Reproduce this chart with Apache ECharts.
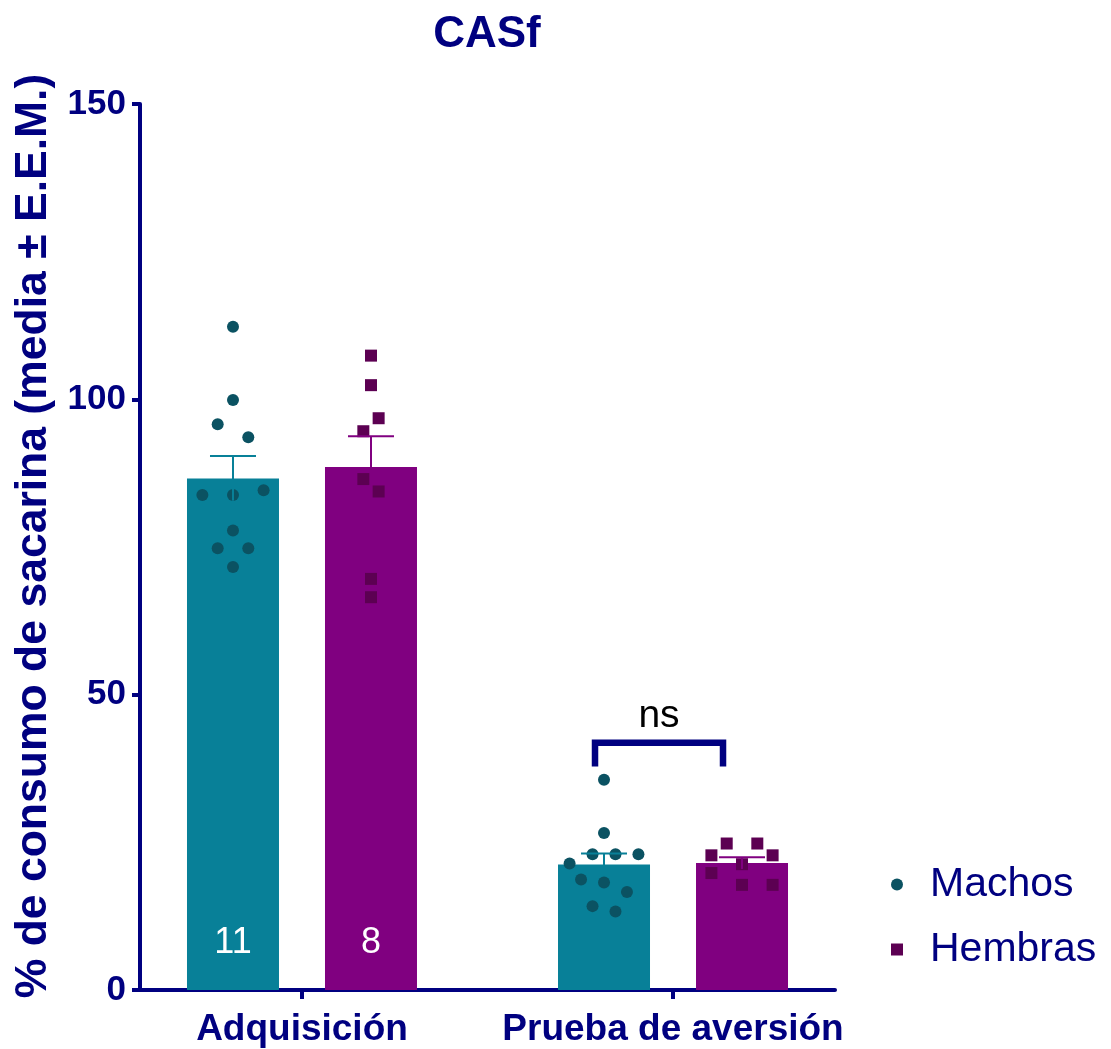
<!DOCTYPE html>
<html>
<head>
<meta charset="utf-8">
<script src="https://cdn.jsdelivr.net/npm/echarts@6/dist/echarts.min.js"></script>
<style>
  html, body { margin: 0; padding: 0; background: #ffffff; }
  #chart { width: 1111px; height: 1049px; }
</style>
</head>
<body>
<div id="chart"></div>
<script>
// Categories and groups
const categories = ['Adquisición', 'Prueba de aversión'];
const groupNames = ['Machos', 'Hembras'];

// Saccharin intake (%) for each animal
const machosAdquisicion = [112.3, 99.9, 95.8, 93.6, 83.8, 83.8, 84.6, 77.8, 74.8, 74.8, 71.6];
const machosAversion = [35.6, 26.6, 23.0, 23.0, 23.0, 21.4, 18.7, 18.2, 16.6, 14.2, 13.3];
const hembrasAdquisicion = [107.4, 102.4, 96.8, 94.6, 86.5, 84.4, 69.6, 66.5];
const hembrasAversion = [24.8, 24.8, 22.8, 22.8, 21.3, 19.8, 17.8, 17.8];

// Side-by-side slot of each point so overlapping values spread sideways
const machosAdquisicionSlots = [0, 0, -2, 2, -4, 0, 4, 0, -2, 2, 0];
const machosAversionSlots = [0, 0, -1.5, 1.5, 4.5, -4.5, -3, 0, 3, -1.5, 1.5];
const hembrasAdquisicionSlots = [0, 0, 1, -1, -1, 1, 0, 0];
const hembrasAversionSlots = [-2, 2, -4, 4, 0, -4, 0, 4];

// Y axis ticks
const yTicks = [0, 50, 100, 150];

const NAVY = '#000080';
const FONT = '"Liberation Sans", Arial, sans-serif';
const BAR_COLORS = ['#088098', '#800080'];
const DOT_COLORS = ['#0b5262', '#5c0052'];
const BAR_W = 92;
const BAR_OFFSET = 69;
const SLOT_PX = 7.65;
const DOT = 12;

const points = [
  [machosAdquisicion, machosAversion],
  [hembrasAdquisicion, hembrasAversion]
];
const slots = [
  [machosAdquisicionSlots, machosAversionSlots],
  [hembrasAdquisicionSlots, hembrasAversionSlots]
];

function mean(a) { return a.reduce((s, v) => s + v, 0) / a.length; }
function sem(a) {
  const m = mean(a);
  const sd = Math.sqrt(a.reduce((s, v) => s + (v - m) * (v - m), 0) / (a.length - 1));
  return sd / Math.sqrt(a.length);
}

function groupRenderer(g) {
  const side = g === 0 ? -1 : 1;
  return function (params, api) {
    const cat = api.value(0);
    const m = api.value(1);
    const s = api.value(2);
    const base = api.coord([cat, 0]);
    const top = api.coord([cat, m]);
    const cx = base[0] + side * BAR_OFFSET;
    const children = [];
    children.push({
      type: 'rect',
      shape: { x: cx - BAR_W / 2, y: top[1], width: BAR_W, height: base[1] - top[1] },
      style: { fill: BAR_COLORS[g] }
    });
    const vals = points[g][cat];
    const sl = slots[g][cat];
    vals.forEach((v, i) => {
      const p = api.coord([cat, v]);
      const x = cx + sl[i] * SLOT_PX;
      if (g === 0) {
        children.push({ type: 'circle', shape: { cx: x, cy: p[1], r: DOT / 2 }, style: { fill: DOT_COLORS[g] } });
      } else {
        children.push({ type: 'rect', shape: { x: x - DOT / 2, y: p[1] - DOT / 2, width: DOT, height: DOT }, style: { fill: DOT_COLORS[g] } });
      }
    });
    const lo = api.coord([cat, m - s]);
    const hi = api.coord([cat, m + s]);
    children.push({
      type: 'line',
      shape: { x1: cx, y1: lo[1], x2: cx, y2: hi[1] },
      style: { stroke: BAR_COLORS[g], lineWidth: 2 }
    });
    children.push({
      type: 'line',
      shape: { x1: cx - 23, y1: hi[1], x2: cx + 23, y2: hi[1] },
      style: { stroke: BAR_COLORS[g], lineWidth: 2 }
    });
    if (cat === 0) {
      children.push({
        type: 'text',
        style: {
          x: cx, y: base[1] - 47, text: String(vals.length),
          fill: '#ffffff', font: '36px ' + FONT,
          align: 'center', verticalAlign: 'middle'
        }
      });
    }
    return { type: 'group', children: children };
  };
}

const groupSeries = groupNames.map((name, g) => ({
  name: name,
  type: 'custom',
  itemStyle: { color: DOT_COLORS[g] },
  renderItem: groupRenderer(g),
  data: categories.map((c, i) => [i, mean(points[g][i]), sem(points[g][i])]),
  z: 2
}));

// Comparison bracket over the aversion test
const BRACKET_TOP = 41.85;
const BRACKET_LEG = 37.85;
const NS_Y = 46.3;
const annotationSeries = {
  type: 'custom',
  silent: true,
  renderItem: function (params, api) {
    const t = api.coord([1, BRACKET_TOP]);
    const b = api.coord([1, BRACKET_LEG]);
    const n = api.coord([1, NS_Y]);
    const l = t[0] - 78, r = t[0] + 50;
    return {
      type: 'group',
      children: [
        {
          type: 'polyline',
          shape: { points: [[l, b[1]], [l, t[1]], [r, t[1]], [r, b[1]]] },
          style: { stroke: NAVY, lineWidth: 6.5, fill: null, lineJoin: 'miter', lineCap: 'butt' }
        },
        {
          type: 'text',
          style: {
            x: t[0] - 14, y: n[1], text: 'ns', fill: '#000000',
            font: '39px ' + FONT,
            align: 'center', verticalAlign: 'middle'
          }
        }
      ]
    };
  },
  data: [[1]],
  z: 3
};

const chart = echarts.init(document.getElementById('chart'), null, { renderer: 'canvas' });
chart.setOption({
  animation: false,
  backgroundColor: '#ffffff',
  title: {
    text: 'CASf',
    left: 482,
    textAlign: 'center',
    top: 8,
    textStyle: { color: NAVY, fontSize: 44, fontWeight: 'bold', fontFamily: FONT }
  },
  legend: {
    orient: 'vertical',
    left: 886,
    top: 859,
    itemWidth: 12,
    itemHeight: 12,
    itemGap: 24,
    data: [
      { name: 'Machos', icon: 'circle', itemStyle: { color: DOT_COLORS[0] } },
      { name: 'Hembras', icon: 'rect', itemStyle: { color: DOT_COLORS[1] } }
    ],
    textStyle: { color: NAVY, fontSize: 41, fontFamily: FONT, padding: [0, 0, 0, 22] }
  },
  grid: { left: 140, right: 276, top: 104, bottom: 59, containLabel: false },
  xAxis: {
    type: 'value',
    min: -0.4366,
    max: 1.4366,
    splitLine: { show: false },
    axisLine: { show: true, onZero: false, lineStyle: { color: NAVY, width: 4 } },
    axisTick: { show: true, length: 9, customValues: [0, 1], lineStyle: { color: NAVY, width: 4 } },
    axisLabel: {
      customValues: [0, 1],
      formatter: v => categories[Math.round(v)],
      margin: 21,
      color: NAVY, fontSize: 37, fontWeight: 'bold', fontFamily: FONT
    }
  },
  yAxis: {
    type: 'value',
    min: yTicks[0],
    max: yTicks[yTicks.length - 1],
    interval: 50,
    name: '% de consumo de sacarina (media ± E.E.M.)',
    nameLocation: 'middle',
    nameGap: 82,
    nameTextStyle: { color: NAVY, fontSize: 44.5, fontWeight: 'bold', fontFamily: FONT, padding: [0, 0, 0, 22] },
    splitLine: { show: false },
    axisLine: { show: true, onZero: false, lineStyle: { color: NAVY, width: 4 } },
    axisTick: { show: true, length: 8, lineStyle: { color: NAVY, width: 4 } },
    axisLabel: { margin: 14, color: NAVY, fontSize: 35, fontWeight: 'bold', fontFamily: FONT }
  },
  series: groupSeries.concat([annotationSeries])
});
</script>
</body>
</html>
